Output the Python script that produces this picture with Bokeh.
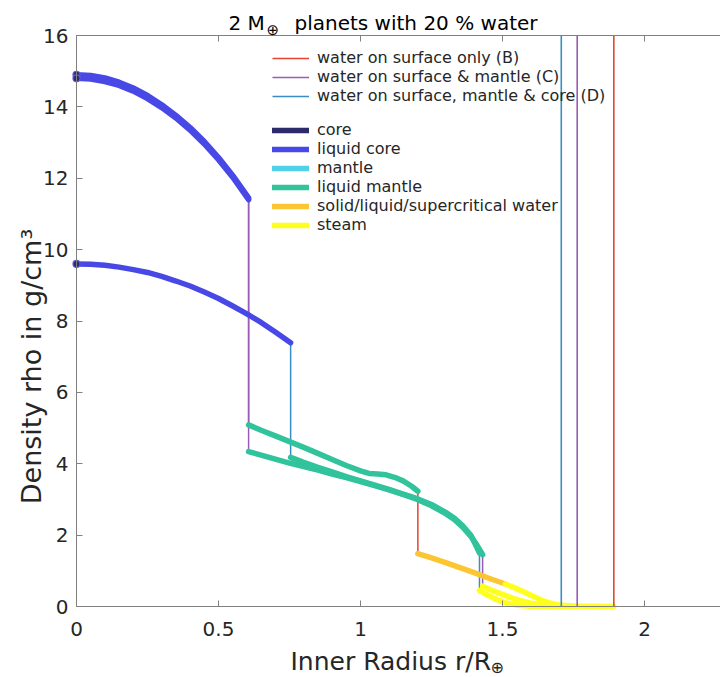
import math
from bokeh.plotting import figure
from bokeh.models import (Range1d, LinearAxis, Label, Legend, LegendItem, CustomLabelingPolicy,
                          FixedTicker, NumeralTickFormatter, ColumnDataSource)
from bokeh.embed import file_html
from bokeh.resources import INLINE

# ---------------- data ----------------
x_ticks = [0, 0.5, 1, 1.5, 2]
y_ticks = [0, 2, 4, 6, 8, 10, 12, 14, 16]

model_names = ["water on surface only (B)",
               "water on surface & mantle (C)",
               "water on surface, mantle & core (D)"]
model_colors = ["#e3452f", "#9a5cb4", "#3a8cc3"]
surface_r = [1.892, 1.763, 1.707]

phase_names = ["core", "liquid core", "mantle", "liquid mantle",
               "solid/liquid/supercritical water", "steam"]
phase_colors = ["#2d2a6c", "#4848e6", "#4fd2e8", "#31c39b", "#fcc633", "#ffff1f"]

# model B
B_lcore_r = [0, 0.05, 0.1, 0.15, 0.2, 0.25, 0.3, 0.35, 0.4, 0.45, 0.5, 0.55, 0.606]
B_lcore_rho = [14.90, 14.88, 14.81, 14.69, 14.53, 14.32, 14.06, 13.76, 13.42, 13.03, 12.58, 12.08, 11.45]
B_lmantle_r = [0.606, 0.65, 0.7, 0.75, 0.8, 0.85, 0.9, 0.95, 1.0, 1.03, 1.06, 1.09, 1.12, 1.15, 1.18, 1.202]
B_lmantle_rho = [5.09, 4.94, 4.78, 4.62, 4.46, 4.29, 4.12, 3.95, 3.80, 3.73, 3.71, 3.69, 3.62, 3.52, 3.37, 3.23]
B_water_r = [1.202, 1.25, 1.3, 1.35, 1.4, 1.45, 1.51]
B_water_rho = [1.48, 1.36, 1.23, 1.09, 0.95, 0.80, 0.63]
B_steam_r = [1.51, 1.55, 1.58, 1.61, 1.64, 1.67, 1.70, 1.75, 1.80, 1.892]
B_steam_rho = [0.63, 0.50, 0.39, 0.28, 0.17, 0.09, 0.04, 0.015, 0.005, 0.0]

# model C
C_lcore_r = [0, 0.05, 0.1, 0.15, 0.2, 0.25, 0.3, 0.35, 0.4, 0.45, 0.5, 0.55, 0.606]
C_lcore_rho = [14.80, 14.78, 14.71, 14.60, 14.44, 14.23, 13.98, 13.69, 13.35, 12.96, 12.52, 12.03, 11.40]
C_lmantle_r = [0.606, 0.65, 0.7, 0.75, 0.8, 0.85, 0.9, 0.95, 1.0, 1.05, 1.1, 1.15, 1.2, 1.25, 1.3, 1.33, 1.36, 1.39, 1.41, 1.43]
C_lmantle_rho = [4.34, 4.24, 4.13, 4.02, 3.92, 3.82, 3.71, 3.61, 3.50, 3.39, 3.27, 3.14, 3.00, 2.82, 2.60, 2.44, 2.22, 1.95, 1.72, 1.45]
C_steam_r = [1.43, 1.47, 1.50, 1.53, 1.56, 1.60, 1.64, 1.68, 1.72, 1.763]
C_steam_rho = [0.57, 0.43, 0.34, 0.25, 0.17, 0.09, 0.04, 0.015, 0.005, 0.0]

# model D
D_lcore_r = [0, 0.05, 0.1, 0.15, 0.2, 0.25, 0.3, 0.35, 0.4, 0.45, 0.5, 0.55, 0.6, 0.65, 0.7, 0.754]
D_lcore_rho = [9.60, 9.59, 9.56, 9.51, 9.44, 9.36, 9.25, 9.12, 8.98, 8.81, 8.63, 8.42, 8.20, 7.96, 7.69, 7.39]
D_lmantle_r = [0.754, 0.8, 0.85, 0.9, 0.95, 1.0, 1.05, 1.1, 1.15, 1.2, 1.25, 1.3, 1.33, 1.36, 1.39, 1.419]
D_lmantle_rho = [4.18, 4.04, 3.90, 3.77, 3.64, 3.52, 3.40, 3.28, 3.15, 3.02, 2.86, 2.64, 2.48, 2.26, 1.98, 1.50]
D_steam_r = [1.419, 1.44, 1.47, 1.50, 1.53, 1.56, 1.60, 1.65, 1.707]
D_steam_rho = [0.45, 0.35, 0.23, 0.13, 0.07, 0.03, 0.01, 0.004, 0.0]

models = [
    [("liquid core", B_lcore_r, B_lcore_rho), ("liquid mantle", B_lmantle_r, B_lmantle_rho),
     ("solid/liquid/supercritical water", B_water_r, B_water_rho), ("steam", B_steam_r, B_steam_rho)],
    [("liquid core", C_lcore_r, C_lcore_rho), ("liquid mantle", C_lmantle_r, C_lmantle_rho),
     ("steam", C_steam_r, C_steam_rho)],
    [("liquid core", D_lcore_r, D_lcore_rho), ("liquid mantle", D_lmantle_r, D_lmantle_rho),
     ("steam", D_steam_r, D_steam_rho)],
]

# ---------------- layout ----------------
FONT = "DejaVu Sans"
TXT = "#262626"
AX = "#808080"
W, H = 720, 677
X0_PX, Y0_PX = 76.0, 606.0          # pixel position of the data origin
PX_X = 284.0                        # pixels per unit r/R
PX_Y = 571.0 / 16.0                 # pixels per g/cm3

x_lo, x_hi = -X0_PX / PX_X, (W - X0_PX) / PX_X
y_lo, y_hi = -(H - Y0_PX) / PX_Y, Y0_PX / PX_Y

p = figure(width=W, height=H, output_backend="svg", toolbar_location=None, title=None,
           x_range=Range1d(x_lo, x_hi), y_range=Range1d(y_lo, y_hi),
           min_border_left=0, min_border_top=0, min_border_bottom=0, min_border_right=0,
           x_axis_location=None, y_axis_location=None)
p.outline_line_color = None
p.xgrid.visible = False
p.ygrid.visible = False
p.background_fill_color = "white"
p.border_fill_color = "white"


def style_axis(ax, standoff=8):
    ax.axis_line_color = AX
    ax.axis_line_width = 1
    ax.major_tick_line_color = AX
    ax.major_tick_in = 6
    ax.major_tick_out = 0
    ax.minor_tick_line_color = None
    ax.major_label_text_font = FONT
    ax.major_label_text_color = TXT
    ax.major_label_standoff = standoff
    ax.major_label_text_font_size = "20px"


xb = LinearAxis(ticker=FixedTicker(ticks=x_ticks), formatter=NumeralTickFormatter(format="0.[0]"),
                fixed_location=y_ticks[0], bounds=(x_ticks[0], x_hi))
style_axis(xb, 15)
p.add_layout(xb, "below")

# top box edge: ticks only, every label filtered out
no_labels = CustomLabelingPolicy(code="""
    for (let i = 0; i < indices.size; i++) { indices.unset(i) }
    return indices
""")
xt = LinearAxis(ticker=FixedTicker(ticks=x_ticks), formatter=NumeralTickFormatter(format="0.[0]"),
                fixed_location=y_ticks[-1], bounds=(x_ticks[0], x_hi), major_label_policy=no_labels)
style_axis(xt, 0)
p.add_layout(xt, "above")

yl = LinearAxis(ticker=FixedTicker(ticks=y_ticks), fixed_location=x_ticks[0],
                bounds=(y_ticks[0], y_ticks[-1]))
style_axis(yl, 8)
p.add_layout(yl, "left")

# model profile lines (thin, underneath)
model_renderers = []
for segs, col in zip(models, model_colors):
    rr, dd = [], []
    for _, r, d in segs:
        rr += r
        dd += d
    rend = p.line(rr, dd, line_color=col, line_width=1.5)
    model_renderers.append(rend)

# phase curves (thick)
NAN = float("nan")
phase_renderers = []
for name, col in zip(phase_names, phase_colors):
    xs, ys = [], []
    for segs in models:
        for ph, r, d in segs:
            if ph == name:
                xs.append(r)
                ys.append(d)
    if not xs:  # phase not present: placeholder so the legend still shows it
        xs, ys = [[NAN]], [[NAN]]
    src = ColumnDataSource(dict(xs=xs, ys=ys))
    rend = p.multi_line("xs", "ys", source=src, line_color=col, line_width=5.5,
                        line_cap="round", line_join="round")
    phase_renderers.append(rend)

# centre markers
cx = [segs[0][1][0] for segs in models]
cy = [segs[0][2][0] for segs in models]
p.scatter(cx, cy, size=7, fill_color="#2d2a6c", line_color="#5a5ae6", line_width=1.2)

# surface lines (full axis height)
p.segment(x0=surface_r, y0=[y_ticks[0]] * len(surface_r), x1=surface_r,
          y1=[y_ticks[-1]] * len(surface_r), line_color=model_colors, line_width=1.6)

# legends (location = bottom-left offset in px from canvas bottom-left)
leg_kw = dict(padding=0, margin=0, spacing=0, glyph_width=37, glyph_height=18,
              label_height=18, label_standoff=8, label_text_font=FONT,
              label_text_font_size="16px", label_text_color=TXT,
              border_line_alpha=0, background_fill_alpha=0)
leg1 = Legend(items=[LegendItem(label=n, renderers=[r]) for n, r in zip(model_names, model_renderers)],
              location=(272, 572), **leg_kw)
leg2 = Legend(items=[LegendItem(label=n, renderers=[r]) for n, r in zip(phase_names, phase_renderers)],
              location=(272, 443), **leg_kw)
p.add_layout(leg1)
p.add_layout(leg2)


def lab(text, x, y, size, angle=0, align="left", baseline="alphabetic", color=TXT):
    # x, y: pixels from top-left of the canvas
    p.add_layout(Label(x=x, y=H - y, x_units="screen", y_units="screen", text=text,
                       text_font=FONT, text_font_size=size, text_color=color,
                       angle=angle, text_align=align, text_baseline=baseline))


lab("2 M", 228, 22, "20px", color="black")
lab("\u2295", 266, 29, "15px", color="black")
lab("planets with 20 % water", 294, 22, "20px", color="black")
lab("Inner Radius r/R", 290, 661, "25px")
lab("\u2295", 490, 667, "16px")
lab("Density rho in g/cm\u00b3", 31, 366, "27px", angle=math.pi / 2, align="center", baseline="middle")

open("out.html", "w").write(file_html(p, INLINE))
